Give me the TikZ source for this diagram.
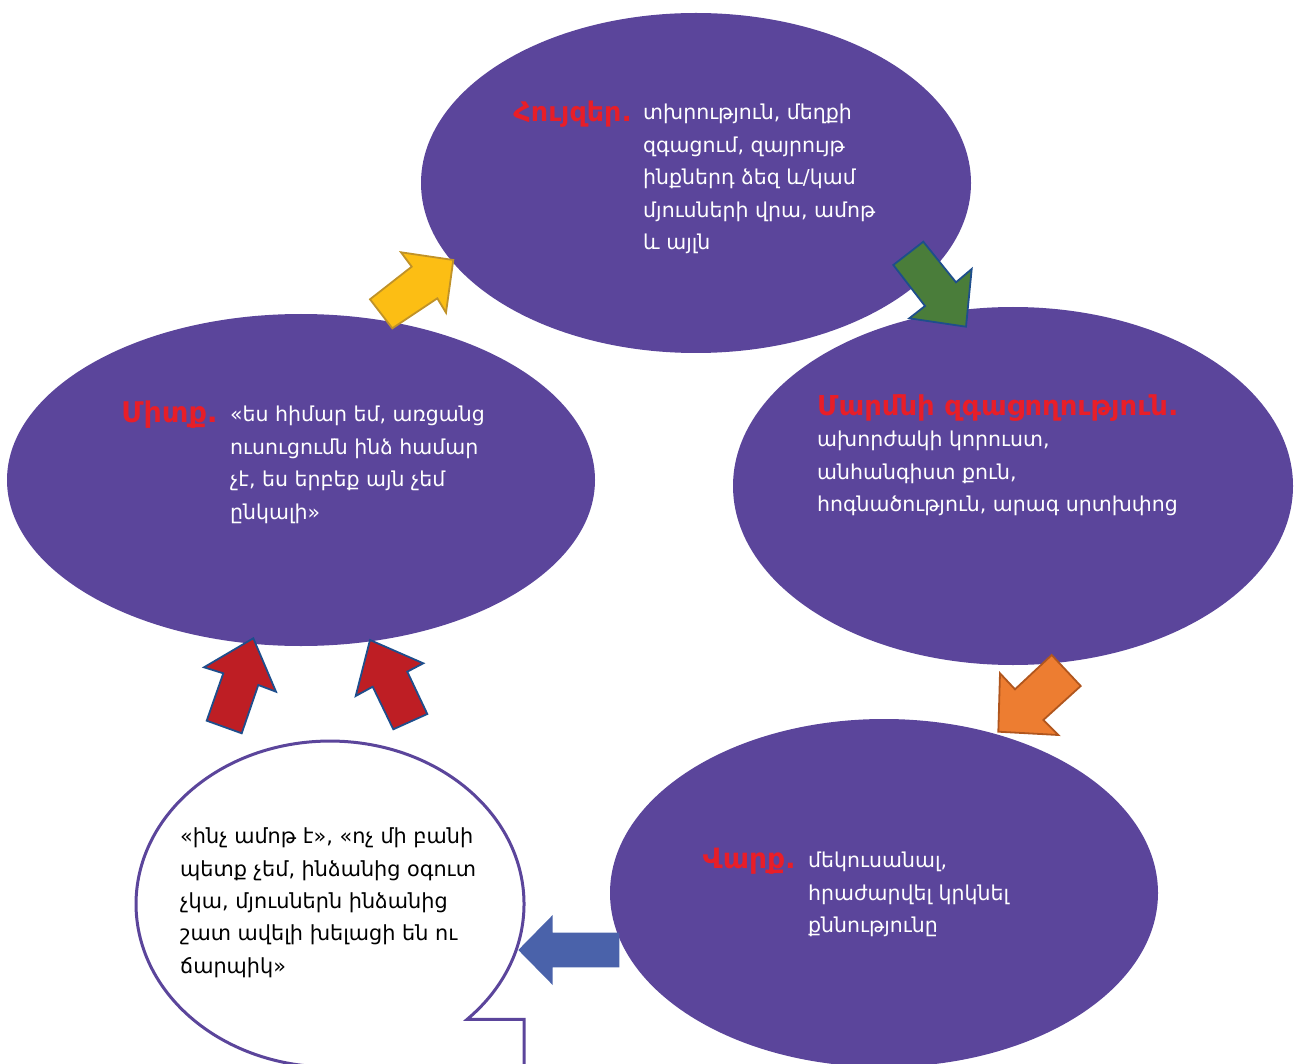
\documentclass[tikz,border=0pt]{standalone}
\usepackage{fontspec}
\setmainfont{DejaVu Sans}
\usetikzlibrary{shapes.geometric}
\definecolor{cbtpurple}{RGB}{91,69,155}
\definecolor{cbtred}{RGB}{232,30,40}
\definecolor{goldfill}{RGB}{252,190,20}
\definecolor{golddraw}{RGB}{192,146,40}
\definecolor{leaffill}{RGB}{74,125,58}
\definecolor{navydraw}{RGB}{30,78,140}
\definecolor{orangefill}{RGB}{237,125,49}
\definecolor{orangedraw}{RGB}{176,86,30}
\definecolor{brickfill}{RGB}{190,30,36}
\definecolor{steelfill}{RGB}{74,98,170}

\begin{document}
\begin{tikzpicture}[x=1pt,y=-1pt,
		bubble/.style={ellipse, fill=cbtpurple, inner sep=0pt},
		title/.style={text=cbtred, inner sep=0pt, font=\bfseries},
		body/.style={text=white, inner sep=0pt, anchor=north west, font=\fontsize{20.5}{32.5}\selectfont}]
		\useasboundingbox (0,0) rectangle (1298,1064);
		\clip (0,0) rectangle (1298,1064);
		\node[bubble, minimum width=550pt, minimum height=340pt] (emotions) at (696,183) {};
		\node[bubble, minimum width=560pt, minimum height=358pt] (sensation) at (1013,486) {};
		\node[bubble, minimum width=588pt, minimum height=332pt] (thought) at (301,480) {};
		\node[bubble, minimum width=548pt, minimum height=348pt] (behaviour) at (884,893) {};
		\coordinate (speech) at (330,904);
		\draw[cbtpurple, line width=3pt, fill=white] (524,1100) -- (524,1019.3) -- (467.2,1019.3)
			arc[start angle=45, end angle=-270, x radius=194, y radius=163] -- cycle;
		\node[title, anchor=base east, font=\bfseries\fontsize{27}{30}\selectfont] (emotionstitle) at (632,122) {Հույզեր.};
		\node[body] (emotionstext) at (643,97) {\begin{tabular}{@{}l@{}}տխրություն, մեղքի\\զգացում, զայրույթ\\ինքներդ ձեզ և/կամ\\մյուսների վրա, ամոթ\\և այլն\end{tabular}};
		\node[title, anchor=base west, font=\bfseries\fontsize{27.4}{30}\selectfont] (sensationtitle) at (817,415) {Մարմնի զգացողություն.};
		\node[body] (sensationtext) at (817,424) {\begin{tabular}{@{}l@{}}ախորժակի կորուստ,\\անհանգիստ քուն,\\հոգնածություն, արագ սրտխփոց\end{tabular}};
		\node[title, anchor=base east, font=\bfseries\fontsize{28.5}{30}\selectfont] (thoughttitle) at (218,422) {Միտք.};
		\node[body] (thoughttext) at (230,399) {\begin{tabular}{@{}l@{}}«ես հիմար եմ, առցանց\\ուսուցումն ինձ համար\\չէ, ես երբեք այն չեմ\\ընկալի»\end{tabular}};
		\node[title, anchor=base east, font=\bfseries\fontsize{28}{30}\selectfont] (behaviourtitle) at (796,868) {Վարք.};
		\node[body] (behaviourtext) at (808,845) {\begin{tabular}{@{}l@{}}մեկուսանալ,\\հրաժարվել կրկնել\\քննությունը\end{tabular}};
		\node[body, text=black, font=\fontsize{20.8}{32.3}\selectfont] (speechtext) at (180,821) {\begin{tabular}{@{}l@{}}«ինչ ամոթ է», «ոչ մի բանի\\պետք չեմ, ինձանից օգուտ\\չկա, մյուսներն ինձանից\\շատ ավելի խելացի են ու\\ճարպիկ»\end{tabular}};
		\draw[line width=1.8pt, draw=golddraw, fill=goldfill] (370,299.3) -- (411.7,266.7) -- (401,252.3) -- (453.3,260) -- (446,312.7) -- (437.3,298.3) -- (392.3,328.3) -- cycle;
		\draw[line width=1.8pt, draw=navydraw, fill=leaffill] (893.3,265) -- (923.3,241.7) -- (956,282.3) -- (971.7,269) -- (966,326.7) -- (909.3,318.3) -- (925,306) -- cycle;
		\draw[line width=1.8pt, draw=orangedraw, fill=orangefill] (1051.7,655) -- (1080.7,686) -- (1043.3,720) -- (1058.3,735) -- (998.3,731.7) -- (1000,673.3) -- (1015,689.3) -- cycle;
		\draw[line width=1.8pt, draw=navydraw, fill=brickfill] (253.3,638.3) -- (276,691.7) -- (258.3,685) -- (241.7,733.3) -- (206.7,720.7) -- (223.3,673.3) -- (204,667.3) -- cycle;
		\draw[line width=1.8pt, draw=navydraw, fill=brickfill] (370,640) -- (423.3,663.3) -- (407.3,671.7) -- (427.3,714) -- (393.3,729.3) -- (372.7,686.7) -- (355.7,696) -- cycle;
		\fill[steelfill] (518.3,950) -- (552.7,915) -- (552.7,932.7) -- (619.3,932.7) -- (619.3,967.3) -- (552.7,967.3) -- (552.7,985) -- cycle;
	\end{tikzpicture}
\end{document}
